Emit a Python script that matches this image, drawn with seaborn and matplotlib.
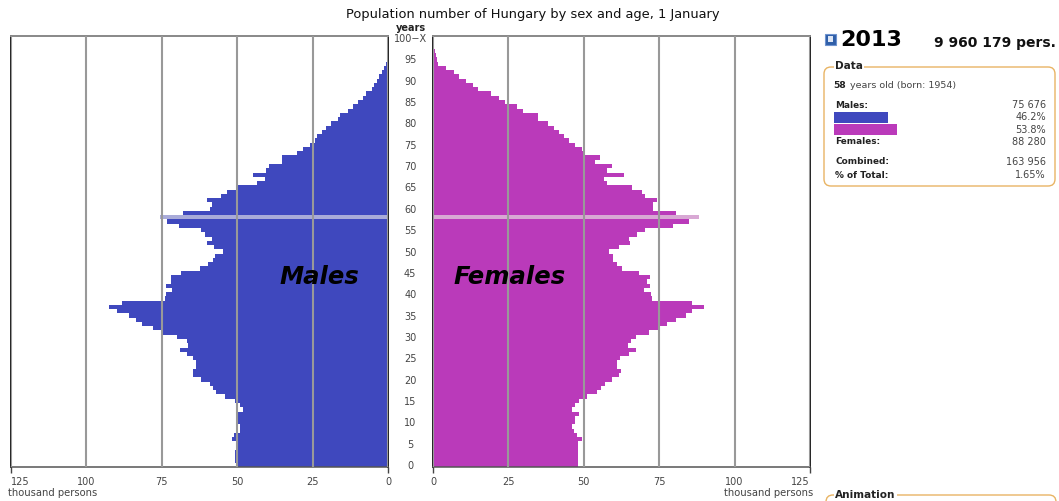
import matplotlib
matplotlib.use("Agg")
import matplotlib.pyplot as plt
import seaborn as sns
from matplotlib.patches import FancyBboxPatch, Rectangle

# thousand persons per single year of age, age 0 first, last entry is 100-X
males = [
    50.5, 50.8, 50.8, 50.6, 50.5, 50.5, 51.6, 50.9, 49.1, 49.2,
    50.0, 50.0, 50.0, 48.2, 49.1, 50.8, 53.9, 57.0, 58.0, 59.0,
    62.0, 64.6, 64.6, 63.5, 63.7, 64.6, 66.8, 69.0, 66.2, 66.8,
    70.0, 74.6, 77.9, 81.5, 83.7, 86.0, 89.7, 92.5, 88.2, 74.0,
    73.5, 71.5, 73.5, 72.0, 72.0, 68.5, 62.2, 59.6, 58.0, 57.5,
    54.7, 57.7, 60.0, 58.4, 60.7, 62.0, 69.3, 73.2, 75.676, 67.9,
    59.0, 58.5, 60.0, 55.5, 53.3, 50.0, 43.4, 40.8, 44.9, 40.3,
    39.5, 35.3, 35.0, 30.3, 28.3, 25.9, 24.2, 23.5, 22.0, 20.6,
    19.0, 16.5, 16.0, 13.4, 11.5, 9.8, 8.2, 7.3, 5.4, 4.6,
    3.8, 2.9, 2.1, 1.3, 0.7, 0.45, 0.3, 0.2, 0.12, 0.08, 0.05,
]
females = [
    48.0, 48.0, 48.0, 48.0, 48.0, 48.0, 49.3, 47.7, 46.8, 46.2,
    47.0, 47.0, 48.5, 46.2, 47.0, 48.3, 51.0, 54.3, 55.7, 57.0,
    59.3, 61.8, 62.3, 61.1, 61.1, 62.0, 65.0, 67.3, 64.8, 65.6,
    67.3, 71.6, 75.0, 77.7, 80.6, 84.0, 86.0, 89.8, 85.8, 72.5,
    72.2, 69.8, 72.0, 70.9, 72.0, 68.4, 62.6, 60.9, 59.8, 59.6,
    58.3, 61.6, 65.2, 64.9, 67.8, 70.2, 79.6, 84.8, 88.28, 80.7,
    73.0, 73.0, 74.2, 70.3, 69.2, 65.9, 57.8, 56.7, 63.3, 57.8,
    59.2, 53.7, 55.4, 49.8, 49.3, 47.0, 45.0, 43.4, 41.7, 40.2,
    38.2, 34.9, 34.7, 29.7, 27.7, 23.8, 21.8, 19.2, 15.0, 13.3,
    11.0, 8.6, 7.0, 4.4, 1.7, 1.2, 0.9, 0.6, 0.4, 0.25, 0.15,
]
ages = list(range(101))
selected_age = 58
x_ticks = [0, 25, 50, 75, 100, 125]
age_ticks = [0, 5, 10, 15, 20, 25, 30, 35, 40, 45, 50, 55, 60, 65, 70, 75, 80, 85, 90, 95, 100]
age_labels = [str(a) for a in age_ticks[:-1]] + ["100\u2212X"]
share_labels = ["Males", "Females"]
share_values = [75.676, 88.28]

W, H = 1059, 501
MALE = "#3F48BE"
FEMALE = "#BA3ABA"
MALE_HL = "#A9ABD9"
FEMALE_HL = "#D8A8D4"
GRID = "#999999"
TEXT = "#444444"
ORANGE = "#E9B464"

sns.set_theme(style="white")
plt.rcParams["font.family"] = ["DejaVu Sans"]


def px_axes(fig, left, top, right, bottom):
    return fig.add_axes([left / W, 1 - bottom / H, (right - left) / W, (bottom - top) / H])


def draw_side(ax, values, color, highlight):
    sns.barplot(x=values, y=ages, orient="y", native_scale=True, color=color,
                saturation=1, width=1, linewidth=0, ax=ax)
    for bar in ax.patches:
        bar.set_antialiased(False)
    ax.patches[selected_age].set_facecolor(highlight)
    ax.set_xlim(0, 125)
    ax.set_ylim(-0.5, 100.5)
    ax.set_xticks(x_ticks)
    ax.set_xlabel("")
    ax.set_ylabel("")
    ax.set_axisbelow(False)
    ax.grid(axis="x", color=GRID, linewidth=1.5, zorder=5)
    ax.tick_params(axis="x", length=4, width=1, color="#444444", labelcolor=TEXT,
                   labelsize=7, pad=3, bottom=True)
    # only the two ends of the scale have a tick mark
    for tick, value in zip(ax.xaxis.get_major_ticks(), x_ticks):
        if value not in (0, 125):
            tick.tick1line.set_visible(False)
    for side in ax.spines:
        ax.spines[side].set_color("#222222")
        ax.spines[side].set_linewidth(1.4)
    ax.spines["top"].set_color("#888888")
    ax.spines["bottom"].set_color("#555555")
    ax.spines["bottom"].set_linewidth(1.1)


fig = plt.figure(figsize=(W / 100, H / 100), dpi=100, facecolor="white")

ax_m = px_axes(fig, 11, 36, 388, 467)
draw_side(ax_m, males, MALE, MALE_HL)
ax_m.invert_xaxis()
ax_m.yaxis.tick_right()
ax_m.set_yticks(age_ticks)
ax_m.set_yticklabels(age_labels)
ax_m.tick_params(axis="y", length=0, labelsize=7, labelcolor=TEXT, pad=16)
for lab in ax_m.get_yticklabels():
    lab.set_ha("center")
ax_m.get_xticklabels()[-1].set_ha("left")

ax_f = px_axes(fig, 433, 36, 810, 467)
draw_side(ax_f, females, FEMALE, FEMALE_HL)
ax_f.set_yticks([])
ax_f.get_xticklabels()[-1].set_ha("right")

# small share bars of the selected age
ax_share = px_axes(fig, 834, 111.5, 905.4, 135.5)
sns.barplot(x=share_values, y=share_labels, hue=share_labels, palette=[MALE, FEMALE],
            saturation=1, width=0.88, linewidth=0, legend=False, ax=ax_share)
ax_share.set_xlim(0, 100)
ax_share.axis("off")
ax_share.set_zorder(20)

# overlay in pixel coordinates for the titles and the side panel
ov = fig.add_axes([0, 0, 1, 1], zorder=10)
ov.set_xlim(0, W)
ov.set_ylim(H, 0)
ov.axis("off")
ov.patch.set_alpha(0)


def label(x, y, s, size=7, weight="normal", color=TEXT, ha="left", **kw):
    ov.text(x, y, s, fontsize=size, fontweight=weight, color=color, ha=ha, va="center", **kw)


label(532.5, 14, "Population number of Hungary by sex and age, 1 January", size=9.35, color="#111111", ha="center")
label(410.5, 28, "years", size=7, weight="bold", color="#222222", ha="center")
label(8, 492.5, "thousand persons", size=7.2)
label(813, 492.5, "thousand persons", size=7.2, ha="right")
label(319, 277, "Males", size=17.5, weight="bold", color="black", ha="center", style="italic")
label(509.5, 277, "Females", size=17.5, weight="bold", color="black", ha="center", style="italic")

# header of the panel
ov.add_patch(Rectangle((825, 34), 11, 11, facecolor="#2F5FA8", edgecolor="#6E93CF", linewidth=0.8))
ov.add_patch(Rectangle((828, 36), 5, 6, facecolor="#DDE6F5", edgecolor="none"))
label(840, 40, "2013", size=16, weight="bold", color="black")
label(1055.5, 43, "9 960 179 pers.", size=10, weight="bold", color="#111111", ha="right")

# data box
ov.add_patch(FancyBboxPatch((824, 67), 231, 119, boxstyle="round,pad=0,rounding_size=7",
                            facecolor="white", edgecolor=ORANGE, linewidth=1, zorder=0.5))
label(835, 66, "Data", size=7.6, weight="bold", color="#222222",
      bbox=dict(facecolor="white", edgecolor="none", pad=1))
label(833, 85, "58", size=6.6, weight="bold", color="#222222")
label(850, 85, "years old (born: 1954)", size=6.8)
label(835, 105, "Males:", size=6.4, weight="bold", color="#222222")
label(835, 142, "Females:", size=6.4, weight="bold", color="#222222")
label(835, 162, "Combined:", size=6.4, weight="bold", color="#222222")
label(835, 175, "% of Total:", size=6.4, weight="bold", color="#222222")
label(1046, 105, "75 676", ha="right")
label(1046, 117, "46.2%", ha="right")
label(1046, 130, "53.8%", ha="right")
label(1046, 142, "88 280", ha="right")
label(1046, 162, "163 956", ha="right")
label(1046, 175, "1.65%", ha="right")

# next box is cut off by the bottom edge
ov.add_patch(FancyBboxPatch((826, 495), 230, 40, boxstyle="round,pad=0,rounding_size=7",
                            facecolor="white", edgecolor=ORANGE, linewidth=1, zorder=0.5))
label(835, 495, "Animation", size=7.6, weight="bold", color="#222222",
      bbox=dict(facecolor="white", edgecolor="none", pad=1))

fig.savefig("out.png", dpi=100)
